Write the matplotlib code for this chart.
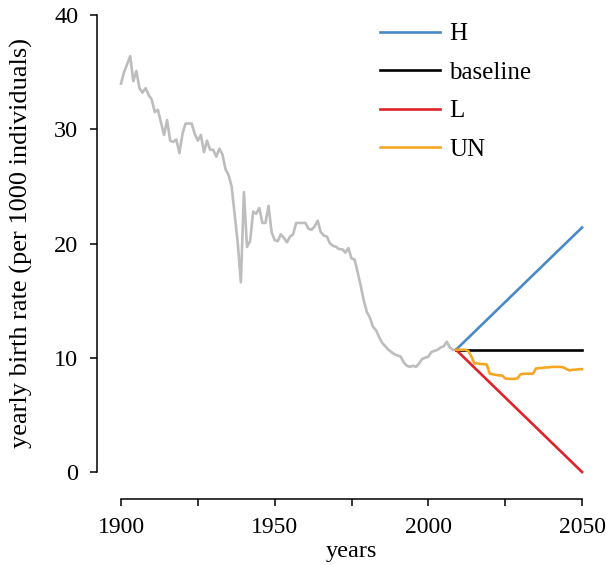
import numpy as np
import matplotlib
matplotlib.use("Agg")
import matplotlib.pyplot as plt

plt.rcParams['font.family'] = ['Liberation Serif', 'DejaVu Serif']

# historical yearly birth rate, 1900-2008
hist_years = list(range(1900, 2009))
hist_rate = [
    34.0, 35.0, 35.7, 36.4, 34.2, 35.1, 33.6, 33.2, 33.6, 33.0,
    32.6, 31.5, 31.7, 30.6, 29.5, 30.8, 29.0, 28.9, 29.1, 27.9,
    29.6, 30.5, 30.5, 30.5, 29.6, 29.0, 29.5, 28.0, 29.0, 28.2,
    28.2, 27.6, 28.3, 27.8, 26.5, 26.0, 25.0, 22.5, 20.0, 16.6,
    24.5, 19.7, 20.2, 22.8, 22.6, 23.1, 21.8, 21.8, 23.3, 21.0,
    20.3, 20.2, 20.8, 20.5, 20.1, 20.6, 20.8, 21.8, 21.8, 21.8,
    21.8, 21.3, 21.2, 21.5, 22.0, 21.0, 20.7, 20.6, 20.0, 19.8,
    19.7, 19.5, 19.5, 19.2, 19.6, 18.7, 18.6, 17.5, 16.3, 15.0,
    14.0, 13.5, 12.7, 12.4, 11.8, 11.3, 11.0, 10.7, 10.5, 10.3,
    10.2, 10.1, 9.6, 9.3, 9.2, 9.3, 9.2, 9.5, 9.9, 10.0,
    10.1, 10.5, 10.6, 10.7, 10.9, 11.0, 11.4, 10.9, 10.7,
]

# scenarios
scen_years = [2009, 2050]
h_rate = [10.7, 21.4]
base_rate = [10.7, 10.7]
l_rate = [10.7, 0.0]

un_years = list(range(2009, 2051))
un_rate = [
    10.7, 10.7, 10.7, 10.7, 10.6, 10.1, 9.5, 9.5, 9.45, 9.45,
    9.4, 8.6, 8.55, 8.5, 8.45, 8.45, 8.2, 8.15, 8.15, 8.15,
    8.2, 8.55, 8.6, 8.6, 8.6, 8.6, 9.05, 9.1, 9.1, 9.15,
    9.15, 9.2, 9.2, 9.2, 9.2, 9.15, 9.0, 8.9, 8.95, 8.95,
    9.0, 9.0,
]

fig = plt.figure(figsize=(6.06, 5.65), dpi=100)
ax = fig.add_axes([121 / 606, 93 / 565, 461 / 606, 457 / 565])

lw = 1.9
ax.plot(hist_years, hist_rate, color='#bdbdbd', lw=lw, clip_on=False)
ax.plot(scen_years, h_rate, color='#4a89c8', lw=lw, label='H', clip_on=False)
ax.plot(scen_years, base_rate, color='black', lw=lw, label='baseline', clip_on=False)
ax.plot(scen_years, l_rate, color='#e0222b', lw=lw, label='L', clip_on=False)
ax.plot(un_years, un_rate, color='#f5a623', lw=lw, label='UN', clip_on=False)

ax.set_xlim(1900, 2050)
ax.set_ylim(0, 40)

for s in ['top', 'right']:
    ax.spines[s].set_visible(False)
ax.spines['left'].set_position(('outward', 24 * 0.72))
ax.spines['bottom'].set_position(('outward', 27 * 0.72))
ax.spines['left'].set_bounds(0, 40)
ax.spines['bottom'].set_bounds(1900, 2050)
for s in ['left', 'bottom']:
    ax.spines[s].set_linewidth(1.1)

ax.set_xticks(np.arange(1900, 2051, 25))
ax.set_xticklabels(['1900', '', '1950', '', '2000', '', '2050'])
ax.set_yticks([0, 10, 20, 30, 40])
ax.tick_params(direction='out', length=5, width=1.1)
ax.tick_params(axis='x', labelsize=17, pad=8)
ax.tick_params(axis='y', labelsize=17.5, pad=8.5)

ax.set_xlabel('years', fontsize=17.5, labelpad=2)
ax.set_ylabel('yearly birth rate (per 1000 individuals)', fontsize=19, labelpad=15)

ax.legend(loc='upper left', bbox_to_anchor=(0.513, 1.032), frameon=False,
          fontsize=18, handlelength=2.4, handletextpad=0.36, labelspacing=0.64)

fig.savefig('out.png', dpi=100)
